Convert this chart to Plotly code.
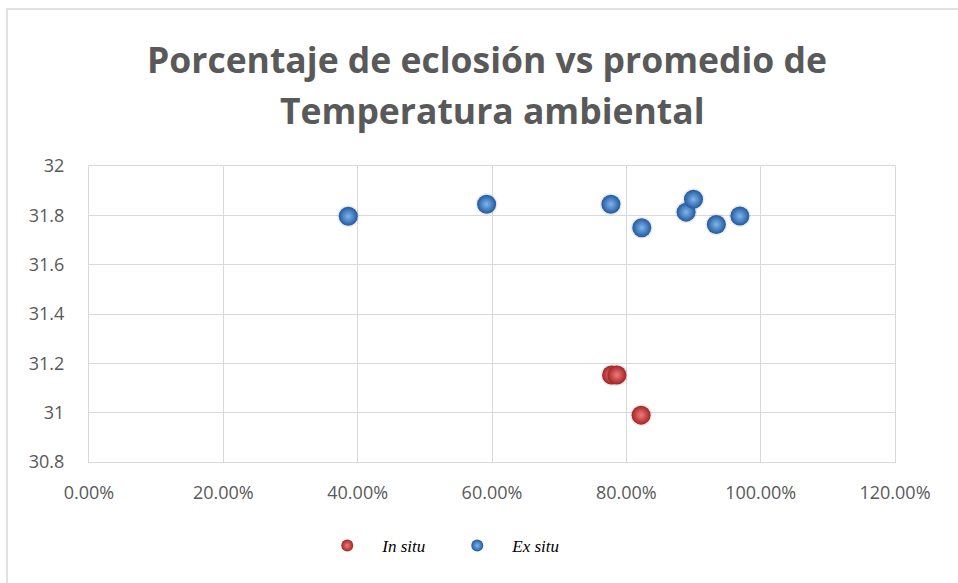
import plotly.graph_objects as go

# Hatching percentage vs mean ambient temperature
in_situ_pct = [0.778, 0.786, 0.822]
in_situ_temp = [31.153, 31.153, 30.99]

ex_situ_pct = [0.386, 0.592, 0.777, 0.823, 0.889, 0.900, 0.934, 0.969]
ex_situ_temp = [31.796, 31.845, 31.845, 31.750, 31.813, 31.865, 31.763, 31.797]

title_lines = ["Porcentaje de eclosión vs promedio de", "Temperatura ambiental"]
y_ticks = [30.8, 31, 31.2, 31.4, 31.6, 31.8, 32]

GRID = "#d9d9d9"
TEXT = "#595959"

fig = go.Figure()

def add_series(name, xs, ys, light, dark):
    # soft shadow under each sphere
    fig.add_trace(go.Scatter(
        x=xs, y=ys, mode="markers", showlegend=False, hoverinfo="skip",
        marker=dict(size=22, color="rgba(0,0,0,0.08)", line=dict(width=0)),
    ))
    fig.add_trace(go.Scatter(
        x=xs, y=ys, mode="markers", name=f"<i>{name}</i>",
        marker=dict(size=19, color=dark, line=dict(width=0),
                    gradient=dict(type="radial", color=light)),
    ))

add_series("In situ", in_situ_pct, in_situ_temp, "#ef7b7b", "#a32424")
add_series("Ex situ", ex_situ_pct, ex_situ_temp, "#7fb6ec", "#22599f")

for i, line in enumerate(title_lines):
    fig.add_annotation(
        text=f"<b>{line}</b>", xref="paper", yref="paper",
        x=[0.494, 0.5][i], y=[1.362, 1.189][i], xanchor="center", yanchor="middle",
        showarrow=False, font=dict(family="Open Sans", size=35.5, color=TEXT),
    )

# outer chart border
fig.add_shape(type="rect", xref="paper", yref="paper",
              x0=-0.1017, x1=1.2, y0=-0.6, y1=1.530,
              line=dict(color=GRID, width=1.5), layer="below")

fig.update_layout(
    width=958, height=583,
    margin=dict(l=89, r=63, t=166, b=121),
    paper_bgcolor="white", plot_bgcolor="white",
    font=dict(family="Open Sans", size=18, color=TEXT),
    legend=dict(orientation="h", x=0.277, y=-0.284, xanchor="left", yanchor="middle",
                font=dict(family="Liberation Serif", size=17, color="black"),
                itemwidth=60, entrywidth=55, entrywidthmode="pixels",
                itemsizing="constant"),
    xaxis=dict(range=[0, 1.2], dtick=0.2, tickformat=".2%", showgrid=True,
               gridcolor=GRID, zeroline=False, showline=True, mirror=True,
               linecolor=GRID, ticks="", ticklabelstandoff=14),
    yaxis=dict(range=[30.8, 32], tickvals=y_ticks, showgrid=True, gridcolor=GRID,
               zeroline=False, showline=True, mirror=True, linecolor=GRID,
               ticks="", ticklabelstandoff=20),
)

fig.write_html("out.html")
